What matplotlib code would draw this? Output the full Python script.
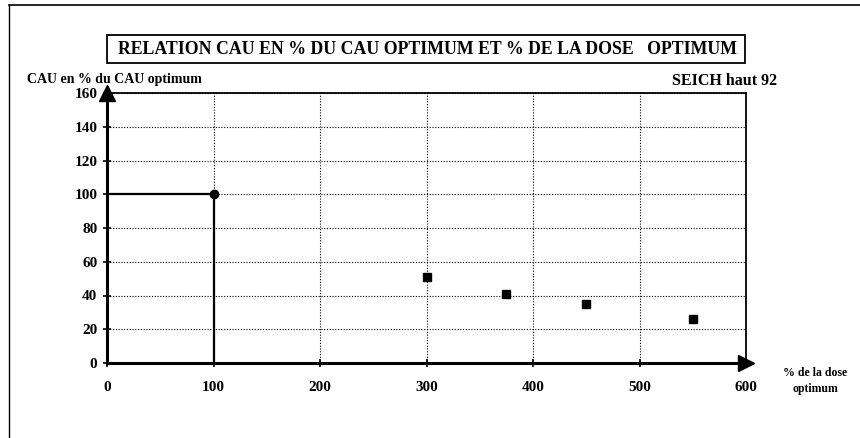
import matplotlib
matplotlib.use("Agg")
import matplotlib.pyplot as plt
from matplotlib.lines import Line2D
from matplotlib.patches import Rectangle

# Data
optimum_dose = [100]
optimum_cau = [100]
dose_pct = [300, 375, 450, 550]
cau_pct = [51, 41, 35, 26]
x_ticks = [0, 100, 200, 300, 400, 500, 600]
y_ticks = [0, 20, 40, 60, 80, 100, 120, 140, 160]

title = "RELATION CAU EN % DU CAU OPTIMUM ET % DE LA DOSE   OPTIMUM"
site = "SEICH haut 92"
ylabel = "CAU en % du CAU optimum"
xlabel = "% de la dose\noptimum"

serif = ["Liberation Serif", "DejaVu Serif"]
plt.rcParams["font.family"] = serif

W, H = 860, 438
fig = plt.figure(figsize=(W / 100, H / 100), dpi=100)
fig.patch.set_facecolor("white")

def fx(px):
    return px / W

def fy(py):
    return 1 - py / H

ax = fig.add_axes([fx(107), fy(363), fx(746) - fx(107), fy(93) - fy(363)])
ax.set_xlim(0, 600)
ax.set_ylim(0, 160)
ax.set_xticks(x_ticks)
ax.set_yticks(y_ticks)
ax.set_xticklabels([str(v) for v in x_ticks], fontsize=11, fontweight="bold")
ax.set_yticklabels([str(v) for v in y_ticks], fontsize=11, fontweight="bold")
ax.tick_params(direction="inout", length=6, width=1.2, pad=10)
ax.tick_params(axis="y", pad=4)

ax.grid(True, linestyle=(0, (1, 1.5)), color="black", linewidth=0.8)
for side in ["left", "bottom"]:
    ax.spines[side].set_linewidth(2.2)
for side in ["top", "right"]:
    ax.spines[side].set_linewidth(1.3)

# Reference lines to the optimum point
ax.plot([0, optimum_dose[0]], [optimum_cau[0], optimum_cau[0]], color="black", lw=1.6, zorder=3)
ax.plot([optimum_dose[0], optimum_dose[0]], [0, optimum_cau[0]], color="black", lw=1.6, zorder=3)
ax.plot(optimum_dose, optimum_cau, "o", color="black", markersize=6, zorder=4, clip_on=False)
ax.plot(dose_pct, cau_pct, "s", color="black", markersize=5.5, zorder=4)

# Axis arrows
ax.plot([0], [160], marker="^", color="black", markersize=11, clip_on=False,
        transform=ax.transData, zorder=5)
ax.plot([600], [0], marker=">", color="black", markersize=11, clip_on=False,
        transform=ax.transData, zorder=5)

# Texts
fig.text(fx(27), fy(79), ylabel, fontsize=10, fontweight="bold", va="center", ha="left")
fig.text(fx(777), fy(81), site, fontsize=11.5, fontweight="bold", va="center", ha="right")
fig.text(fx(815), fy(381), xlabel, fontsize=8.5, fontweight="bold", va="center",
         ha="center", linespacing=1.45)

# Title box
fig.patches.append(Rectangle((fx(107), fy(63)), fx(745) - fx(107), fy(35) - fy(63),
                             transform=fig.transFigure, fill=False, edgecolor="black",
                             linewidth=1.3))
fig.text(fx(427), fy(49), title, fontsize=12.8, fontweight="bold", va="center", ha="center")

# Outer frame (top and left edges)
fig.lines.append(Line2D([fx(9), 1.0], [fy(5), fy(5)], transform=fig.transFigure,
                        color="black", linewidth=1.2))
fig.lines.append(Line2D([fx(9), fx(9)], [fy(5), 0.0], transform=fig.transFigure,
                        color="black", linewidth=1.0))

fig.savefig("out.png", dpi=100, facecolor="white")
